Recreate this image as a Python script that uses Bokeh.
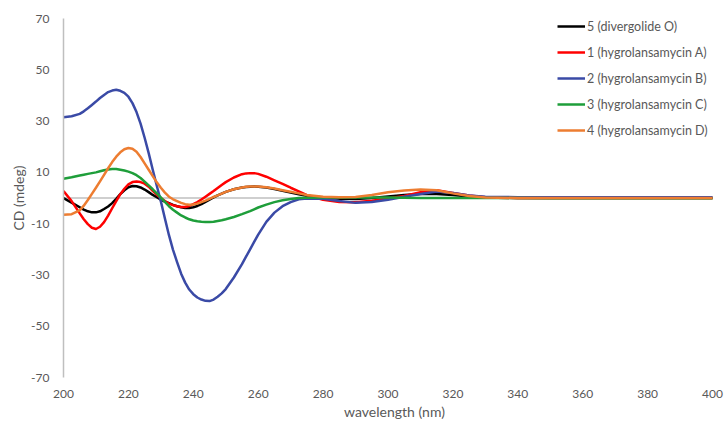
from bokeh.plotting import figure
from bokeh.models import FixedTicker, Legend, LegendItem, Range1d
from bokeh.embed import file_html
from bokeh.resources import INLINE

# wavelength grid (nm)
wavelength = [200, 202.5, 205,
              206.25, 207.5, 208.75, 210, 211.25, 212.5, 213.75, 215, 216.25, 217.5, 218.75, 220,
              221.25, 222.5, 223.75, 225, 226.25, 227.5, 228.75, 230, 231.25, 232.5, 233.75, 235,
              236.25, 237.5, 238.75, 240, 241.25, 242.5, 243.75, 245, 246.25, 247.5, 248.75, 250,
              252.5, 255, 256.25, 257.5, 258.75, 260,
              262.5, 265, 267.5, 270, 272.5, 275,
              280, 285, 290, 295, 300, 305, 310, 315, 320, 325, 330,
              340, 350, 360, 380, 400]

# CD (mdeg) values
cd_5 = [0.0, -1.8, -3.6,
        -4.5, -5.2, -5.6, -5.6, -5.2, -4.3, -3.3, -2.0, -0.3, 1.5, 3.0, 4.2,
        4.7, 4.6, 4.1, 3.3, 2.3, 1.2, 0.3, -0.6, -1.4, -2.0, -2.7, -3.2,
        -3.6, -3.9, -3.9, -3.6, -3.1, -2.4, -1.5, -0.6, 0.2, 1.0, 1.7, 2.4,
        3.4, 4.1, 4.3, 4.4, 4.5, 4.4,
        4.1, 3.5, 2.8, 2.1, 1.5, 0.9,
        0.2, -0.3, -0.4, 0.0, 0.6, 1.2, 1.6, 1.6, 1.2, 0.6, 0.2,
        0.0, 0.0, 0.0, 0.0, 0.0]
cd_1 = [2.7, -1.2, -6.0,
        -8.3, -10.2, -11.6, -12.1, -11.2, -9.4, -6.9, -4.0, -1.2, 1.5, 3.6, 5.3,
        6.2, 6.4, 6.2, 5.6, 4.4, 2.8, 1.3, 0.0, -1.2, -2.2, -2.8, -3.2,
        -3.5, -3.5, -3.1, -2.4, -1.6, -0.6, 0.5, 1.6, 2.7, 3.9, 5.1, 6.2,
        8.0, 9.3, 9.6, 9.7, 9.7, 9.4,
        8.3, 6.9, 5.5, 4.0, 2.6, 1.1,
        -0.7, -1.6, -1.7, -1.1, -0.2, 0.8, 2.3, 3.0, 2.0, 1.0, 0.3,
        0.0, 0.0, 0.0, 0.0, 0.0]
cd_2 = [31.5, 31.9, 32.8,
        33.8, 35.0, 36.3, 37.6, 39.0, 40.2, 41.3, 41.9, 42.2, 41.8, 41.0, 39.5,
        37.0, 33.5, 29.0, 23.5, 17.5, 11.0, 4.8, -1.3, -8.0, -14.5, -20.2, -25.0,
        -29.5, -33.0, -35.7, -37.5, -38.8, -39.6, -40.1, -40.2, -39.6, -38.5, -37.2, -35.5,
        -31.0, -25.8, -22.9, -20.0, -17.1, -14.3,
        -9.3, -5.7, -3.2, -1.6, -0.5, -0.2,
        -0.3, -1.2, -1.9, -1.6, -0.7, 0.5, 1.6, 2.5, 2.0, 1.0, 0.5,
        0.3, 0.3, 0.3, 0.3, 0.3]
cd_3 = [7.5, 8.1, 8.8,
        9.1, 9.4, 9.7, 10.0, 10.4, 10.8, 11.1, 11.3, 11.3, 11.0, 10.7, 10.3,
        9.7, 8.9, 7.8, 6.4, 4.9, 3.4, 1.8, 0.2, -1.5, -3.2, -4.6, -5.7,
        -6.8, -7.6, -8.3, -8.8, -9.1, -9.3, -9.4, -9.4, -9.3, -9.0, -8.7, -8.3,
        -7.4, -6.3, -5.7, -5.1, -4.4, -3.7,
        -2.6, -1.6, -0.9, -0.4, 0.0, 0.1,
        0.2, 0.2, 0.2, 0.2, 0.2, 0.1, 0.0, 0.0, 0.0, 0.0, 0.0,
        0.0, -0.1, -0.1, -0.1, -0.1]
cd_4 = [-6.5, -6.3, -4.8,
        -3.0, -0.8, 1.6, 4.0, 6.5, 9.0, 11.6, 14.0, 16.1, 17.8, 19.0, 19.5,
        19.2, 18.0, 16.0, 13.5, 11.0, 8.5, 6.1, 4.0, 2.1, 0.5, -0.5, -1.2,
        -1.9, -2.4, -2.6, -2.5, -2.2, -1.6, -1.0, -0.3, 0.4, 1.0, 1.7, 2.4,
        3.4, 4.1, 4.4, 4.5, 4.5, 4.5,
        4.2, 3.7, 3.0, 2.4, 1.8, 1.2,
        0.5, 0.3, 0.4, 1.2, 2.2, 2.9, 3.3, 3.0, 1.8, 0.8, 0.2,
        0.0, 0.0, 0.0, 0.0, 0.0]

labels = ["5 (divergolide O)", "1 (hygrolansamycin A)", "2 (hygrolansamycin B)",
          "3 (hygrolansamycin C)", "4 (hygrolansamycin D)"]
colors = ["#000000", "#ff0000", "#3a4aa6", "#1e9e3a", "#ed7d31"]
values = [cd_5, cd_1, cd_2, cd_3, cd_4]

x_ticks = [200, 220, 240, 260, 280, 300, 320, 340, 360, 380, 400]
y_ticks = [-70, -50, -30, -10, 10, 30, 50, 70]

FONT = "Lato"
TXT = "#595959"

# frame extends a little past 400 so the legend is not clipped
p = figure(width=727, height=423, output_backend="svg", toolbar_location=None,
           x_range=Range1d(200, 404), y_range=Range1d(-70, 70),
           min_border_left=63, min_border_right=2, min_border_top=18, min_border_bottom=46)
p.outline_line_color = None
p.xgrid.visible = False
p.ygrid.visible = False
p.background_fill_color = "white"
p.border_fill_color = "white"

# zero baseline across the data span
p.line([wavelength[0], wavelength[-1]], [0, 0], line_color="#bfbfbf", line_width=1.5)

items = []
for lab, col, vals in zip(labels, colors, values):
    r = p.line(wavelength, vals, line_color=col, line_width=2.5, line_join="round")
    items.append(LegendItem(label=lab, renderers=[r]))

for ax in (p.xaxis[0], p.yaxis[0]):
    ax.major_tick_line_color = None
    ax.minor_tick_line_color = None
    ax.major_label_text_font = FONT
    ax.major_label_text_font_size = "12px"
    ax.major_label_text_color = TXT
    ax.axis_label_text_font = FONT
    ax.axis_label_text_font_size = "14px"
    ax.axis_label_text_color = TXT
    ax.axis_label_text_font_style = "normal"

p.xaxis.ticker = FixedTicker(ticks=x_ticks)
p.yaxis.ticker = FixedTicker(ticks=y_ticks)
p.yaxis.major_label_overrides = {t: str(t) for t in y_ticks}
p.xaxis.axis_line_color = None
p.xaxis.axis_label = "wavelength (nm)"
p.xaxis.major_label_standoff = 6
p.xaxis.axis_label_standoff = 2
p.yaxis.axis_line_color = "#bfbfbf"
p.yaxis.axis_line_width = 1.5
p.yaxis.axis_label = "CD (mdeg)"
p.yaxis.major_label_standoff = 8
p.yaxis.axis_label_standoff = 1

legend = Legend(items=items, location=(494, 239), orientation="vertical",
                glyph_width=28, glyph_height=16, label_height=16, spacing=10,
                label_standoff=2, padding=0, margin=0,
                border_line_color=None, background_fill_alpha=0,
                label_text_font=FONT, label_text_font_size="12.5px",
                label_text_color=TXT)
p.add_layout(legend)

open("out.html", "w").write(file_html(p, INLINE))
